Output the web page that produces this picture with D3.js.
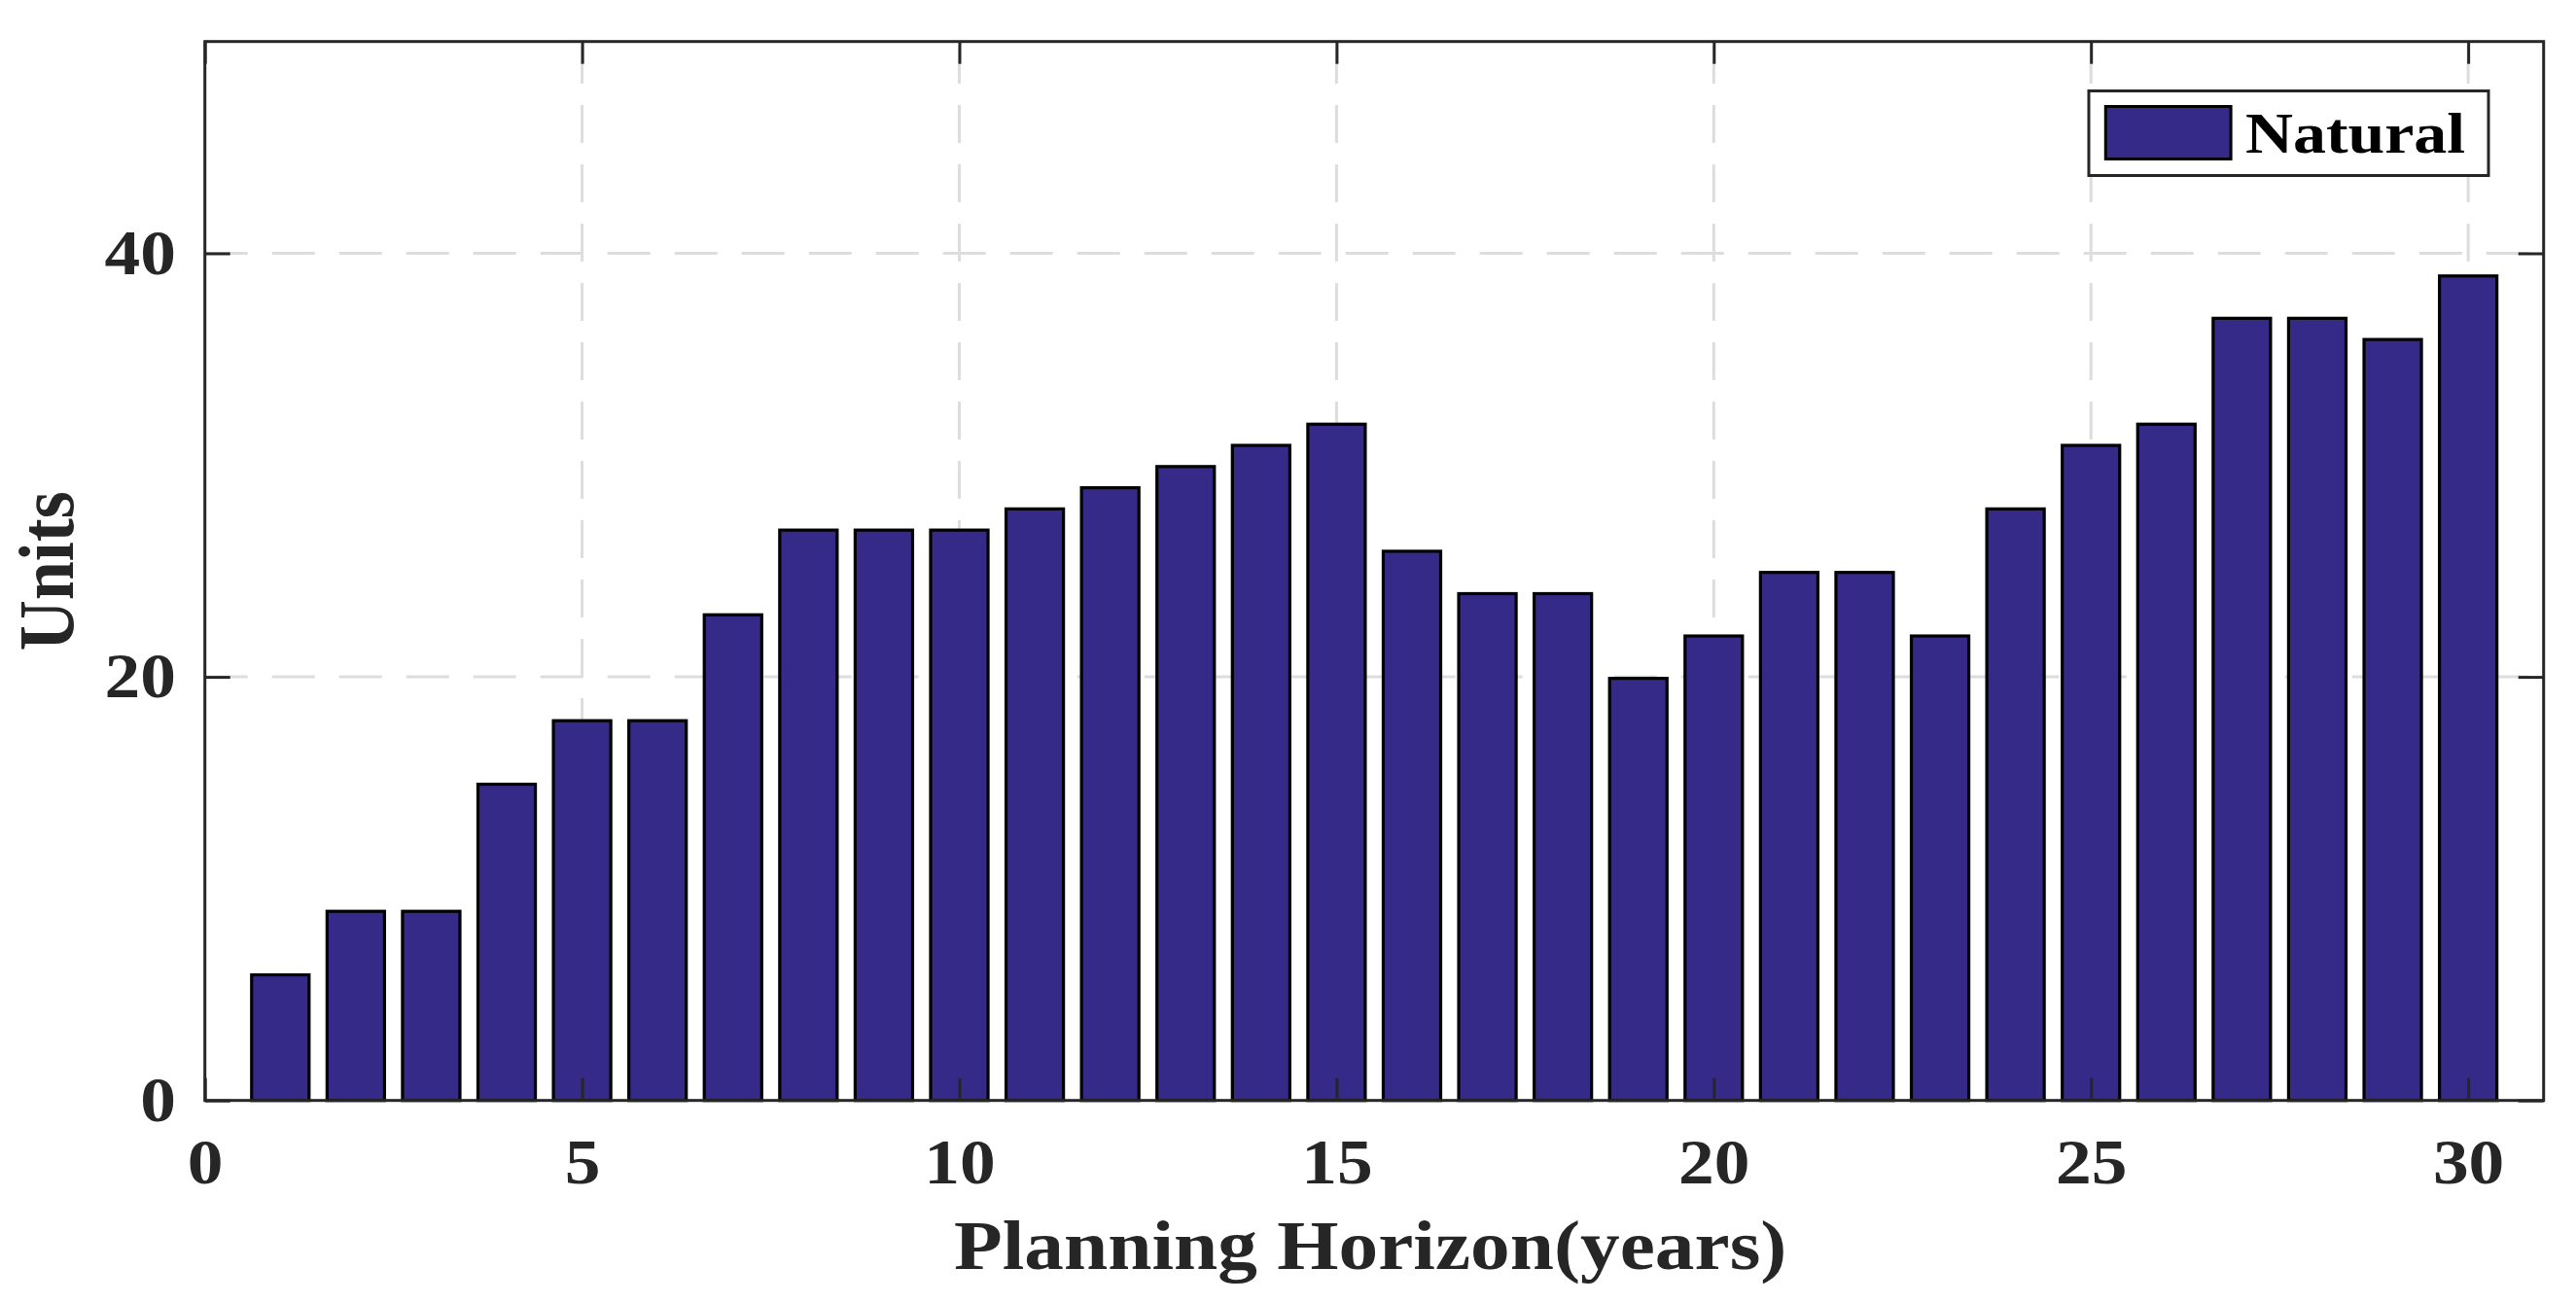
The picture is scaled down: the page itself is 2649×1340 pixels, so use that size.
<!DOCTYPE html>
<html>
<head>
<meta charset="utf-8">
<script src="https://cdn.jsdelivr.net/npm/d3@7"></script>
<style>
  html, body { margin: 0; padding: 0; background: #fff; }
  svg { display: block; }
  text { font-family: "Liberation Serif", "Times New Roman", serif; font-weight: bold; }
</style>
</head>
<body>
<svg id="chart" width="2649" height="1340"></svg>
<script>
// ---- data ----
const years = [1,2,3,4,5,6,7,8,9,10,11,12,13,14,15,16,17,18,19,20,21,22,23,24,25,26,27,28,29,30];
const natural = [6,9,9,15,18,18,23,27,27,27,28,29,30,31,32,26,24,24,20,22,25,25,22,28,31,32,37,37,36,39];
const xTicks = [0,5,10,15,20,25,30];
const yTicks = [0,20,40];
const seriesName = "Natural";
const xLabel = "Planning Horizon(years)";
const yLabel = "Units";

// ---- layout ----
const L = 210.7, R = 2615.7, T = 42.7, B = 1131.7;
const SX = 1.13; // horizontal stretch of text in reference
const barColor = "#352a87";
const axisColor = "#262626";

const svg = d3.select("#chart");
const x = d3.scaleLinear().domain([0, 31]).range([L, R]);
const y = d3.scaleLinear().domain([0, 50]).range([B, T]);
const barW = x(0.8) - x(0);

// grid
const grid = svg.append("g");
grid.selectAll("line.vg").data(xTicks.filter(d => d > 0)).join("line")
  .attr("x1", d => x(d)).attr("x2", d => x(d))
  .attr("y1", T).attr("y2", B)
  .attr("stroke", "#dddddd").attr("stroke-width", 3)
  .attr("stroke-dasharray", "39,22").attr("stroke-dashoffset", 56.7);
grid.selectAll("line.hg").data(yTicks.filter(d => d > 0)).join("line")
  .attr("x1", L).attr("x2", R)
  .attr("y1", d => y(d)).attr("y2", d => y(d))
  .attr("stroke", "#dddddd").attr("stroke-width", 3)
  .attr("stroke-dasharray", "44,25");

// bars
svg.append("g").selectAll("rect").data(years).join("rect")
  .attr("x", (d) => x(d) - barW / 2 + 1.5)
  .attr("width", barW - 3)
  .attr("y", (d, i) => y(natural[i]) + 1.5)
  .attr("height", (d, i) => y(0) - y(natural[i]) - 1.5)
  .attr("fill", barColor)
  .attr("stroke", "#000")
  .attr("stroke-width", 3.2);

// axes
function styleAxis(g) {
  g.select(".domain").remove();
  g.selectAll(".tick line").attr("stroke", axisColor).attr("stroke-width", 3);
  g.selectAll(".tick text")
    .attr("fill", axisColor)
    .style("font-size", "65px")
    .style("font-family", "'Liberation Serif','Times New Roman',serif")
    .style("font-weight", "bold")
    .attr("transform", `scale(${SX},1)`);
}
svg.append("g").attr("transform", `translate(0,${B})`)
  .call(d3.axisBottom(x).tickValues(xTicks).tickFormat(d3.format("d")).tickSizeInner(-23).tickSizeOuter(0).tickPadding(39))
  .call(styleAxis);
svg.append("g").attr("transform", `translate(0,${T})`)
  .call(d3.axisTop(x).tickValues(xTicks).tickFormat("").tickSizeInner(-23).tickSizeOuter(0))
  .call(styleAxis);
svg.append("g").attr("transform", `translate(${L},0)`)
  .call(d3.axisLeft(y).tickValues(yTicks).tickFormat(d3.format("d")).tickSizeInner(-26).tickSizeOuter(0).tickPadding(26.3))
  .call(styleAxis);
svg.append("g").attr("transform", `translate(${R},0)`)
  .call(d3.axisRight(y).tickValues(yTicks).tickFormat("").tickSizeInner(-26).tickSizeOuter(0))
  .call(styleAxis);

// box
svg.append("rect")
  .attr("x", L).attr("y", T).attr("width", R - L).attr("height", B - T)
  .attr("fill", "none").attr("stroke", axisColor).attr("stroke-width", 3);

// axis labels
svg.append("g").attr("transform", `translate(${(L + R) / 2 - 4},1305) scale(${SX},1)`)
  .append("text").attr("text-anchor", "middle").attr("fill", axisColor)
  .style("font-size", "72px").text(xLabel);
svg.append("g").attr("transform", `translate(75,${(T + B) / 2}) scale(${SX},1) rotate(-90)`)
  .append("text").attr("text-anchor", "middle").attr("fill", axisColor)
  .style("font-size", "72px").text(yLabel);

// legend
const lg = svg.append("g");
lg.append("rect").attr("x", 2148).attr("y", 93.5).attr("width", 411).attr("height", 87)
  .attr("fill", "#fff").attr("stroke", axisColor).attr("stroke-width", 3);
lg.append("rect").attr("x", 2165.3).attr("y", 109.5).attr("width", 128.8).attr("height", 54)
  .attr("fill", barColor).attr("stroke", "#000").attr("stroke-width", 3);
lg.append("g").attr("transform", `translate(2309,156.7) scale(1.16,1)`)
  .append("text").attr("fill", "#000").style("font-size", "58.5px").text(seriesName);
</script>
</body>
</html>
